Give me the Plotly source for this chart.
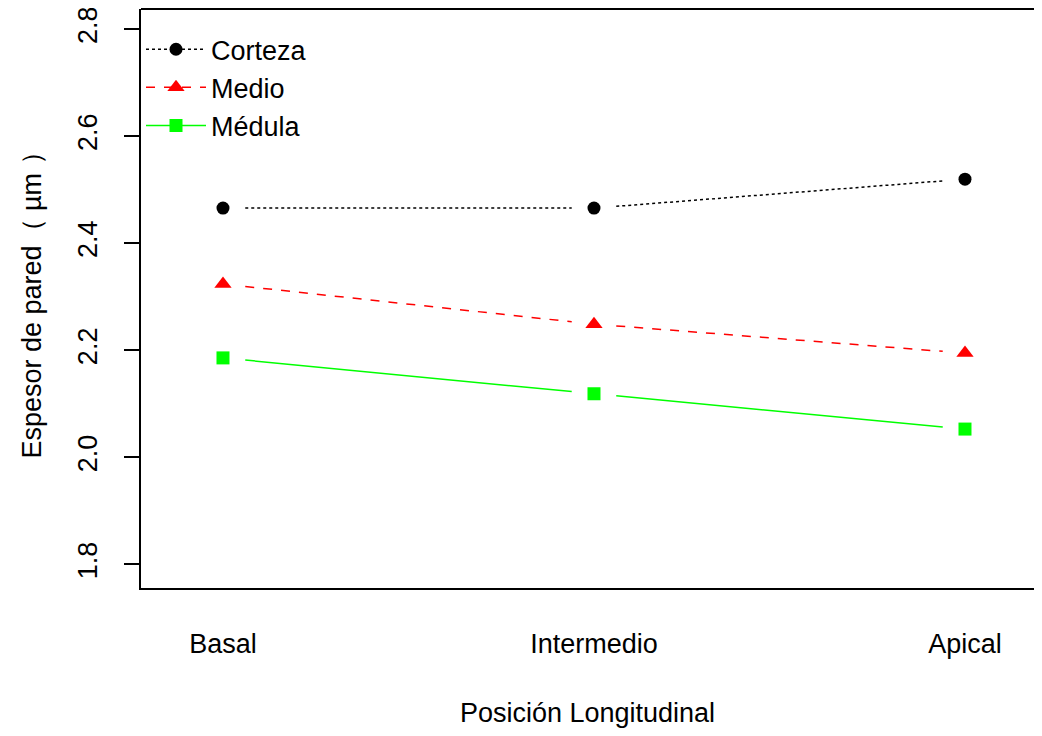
import plotly.graph_objects as go

categories = ["Basal", "Intermedio", "Apical"]
series_names = ["Corteza", "Medio", "Médula"]
corteza = [2.466, 2.466, 2.520]
medio = [2.324, 2.249, 2.195]
medula = [2.186, 2.119, 2.053]
y_ticks = [1.8, 2.0, 2.2, 2.4, 2.6, 2.8]

values = [corteza, medio, medula]
colors = ["#000000", "#FF0000", "#00FF00"]
dashes = ["dot", "dash", "solid"]
symbols = ["circle", "triangle-up", "square"]
msizes = [13, 15, 13]

FONT = "Liberation Sans, Arial, sans-serif"
FS = 27
xs = list(range(1, len(categories) + 1))

fig = go.Figure()
gap = 0.06
for name, vals, col, dsh, sym, ms in zip(series_names, values, colors, dashes, symbols, msizes):
    lx, ly = [], []
    for i in range(len(xs) - 1):
        x0, x1 = xs[i], xs[i + 1]
        y0, y1 = vals[i], vals[i + 1]
        lx += [x0 + gap * (x1 - x0), x1 - gap * (x1 - x0), None]
        ly += [y0 + gap * (y1 - y0), y1 - gap * (y1 - y0), None]
    fig.add_trace(go.Scatter(x=lx, y=ly, mode="lines", showlegend=False,
                             line=dict(color=col, dash=dsh, width=1.5), hoverinfo="skip"))
    fig.add_trace(go.Scatter(x=xs, y=vals, mode="markers", showlegend=False, name=name,
                             marker=dict(color=col, symbol=sym, size=ms)))
    fig.add_trace(go.Scatter(x=[None], y=[None], mode="lines+markers", name=name,
                             line=dict(color=col, dash=dsh, width=1.5),
                             marker=dict(color=col, symbol=sym, size=ms)))

fig.update_layout(
    width=1026, height=720,
    margin=dict(l=133, r=0, t=1, b=140, autoexpand=False),
    paper_bgcolor="white", plot_bgcolor="white",
    font=dict(family=FONT, size=FS, color="#000000"),
    showlegend=True,
    legend=dict(x=0.0, y=0.972, xanchor="left", yanchor="top",
                bgcolor="rgba(0,0,0,0)", font=dict(size=FS, family=FONT),
                itemwidth=60, tracegroupgap=0),
    xaxis=dict(
        range=[0.779, 3.186], tickmode="array", tickvals=xs, ticktext=categories,
        showgrid=False, zeroline=False, showline=True, linecolor="#000000", linewidth=2,
        ticks="", ticklabelstandoff=31, tickfont=dict(size=FS, family=FONT), automargin=False,
        title=dict(text="Posición Longitudinal", font=dict(size=FS, family=FONT), standoff=54),
    ),
    yaxis=dict(
        range=[1.756, 2.838], tickmode="array", tickvals=y_ticks,
        ticktext=[f"{v:.1f}" for v in y_ticks],
        showgrid=False, zeroline=False, showline=True, linecolor="#000000", linewidth=2,
        ticks="outside", ticklen=15, tickwidth=2, tickcolor="#000000", automargin=False,
        tickangle=-90, tickfont=dict(size=FS, family=FONT), ticklabelstandoff=16,
        ticklabeloverflow="allow",
        title=dict(text="Espesor de pared（ µm ）", font=dict(size=FS, family=FONT), standoff=24),
    ),
    shapes=[dict(type="line", xref="paper", yref="paper", x0=0, x1=1, y0=1, y1=1,
                 line=dict(color="#000000", width=2))],
)

fig.write_html("out.html")
